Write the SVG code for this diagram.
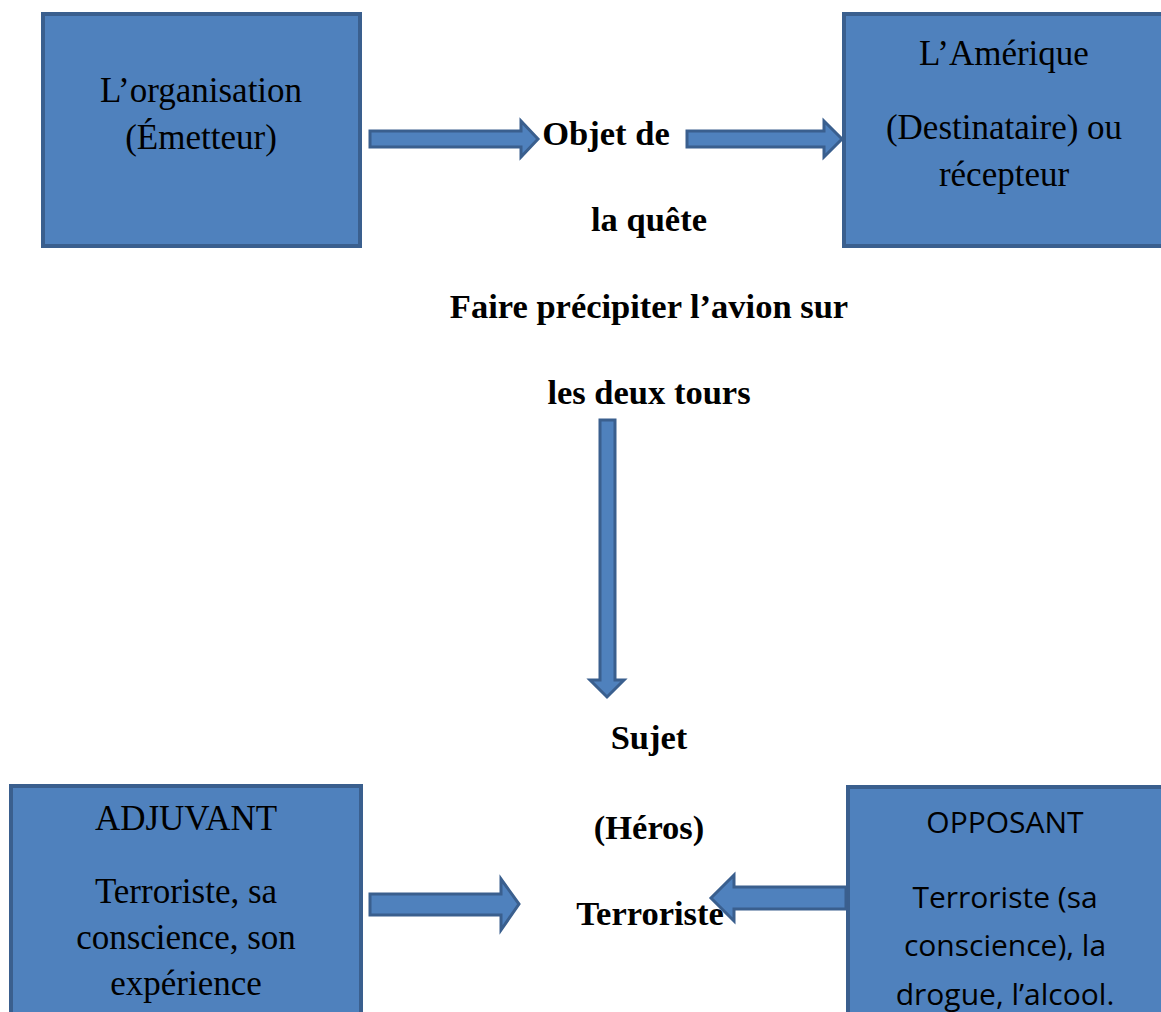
<svg xmlns="http://www.w3.org/2000/svg" width="1161" height="1012" viewBox="0 0 1161 1012">
<style>
.box{fill:#4F81BD;stroke:#3A5F8E;stroke-width:4}
.arr{fill:#4F81BD;stroke:#3A5F8E;stroke-width:3;stroke-linejoin:miter}
.t{font-family:"Liberation Serif",serif;font-size:35px;fill:#000;text-anchor:middle}
.b{font-family:"Liberation Serif",serif;font-size:34.5px;font-weight:bold;fill:#000;text-anchor:middle}
.s{font-family:"Open Sans","Liberation Sans",sans-serif;font-size:30px;fill:#000;text-anchor:middle}
</style>
<rect width="1161" height="1012" fill="#fff"/>
<g id="emetteur">
<rect class="box" x="43" y="14" width="317" height="232"/>
<text class="t" x="201" y="102">L’organisation</text>
<text class="t" x="201" y="149">(Émetteur)</text>
</g>
<g id="destinataire">
<rect class="box" x="844" y="14" width="330" height="232"/>
<text class="t" x="1004" y="65">L’Amérique</text>
<text class="t" x="1004" y="139">(Destinataire) ou</text>
<text class="t" x="1004" y="186">récepteur</text>
</g>
<g id="objet">
<text class="b" x="606" y="145">Objet de</text>
<text class="b" x="649" y="231">la quête</text>
<text class="b" x="649" y="318">Faire précipiter l’avion sur</text>
<text class="b" x="649" y="404">les deux tours</text>
</g>
<g id="sujet">
<text class="b" x="649" y="749">Sujet</text>
<text class="b" x="649" y="839">(Héros)</text>
<text class="b" x="650" y="925">Terroriste</text>
</g>
<g id="adjuvant">
<rect class="box" x="11" y="786" width="350" height="240"/>
<text class="t" x="186" y="830">ADJUVANT</text>
<text class="t" x="186" y="903">Terroriste, sa</text>
<text class="t" x="186" y="949">conscience, son</text>
<text class="t" x="186" y="995">expérience</text>
</g>
<g id="opposant">
<rect class="box" x="848" y="787" width="330" height="240"/>
<text class="s" x="1005" y="833">OPPOSANT</text>
<text class="s" x="1005" y="908">Terroriste (sa</text>
<text class="s" x="1005" y="956">conscience), la</text>
<text class="s" x="1005" y="1005">drogue, l’alcool.</text>
</g>
<g id="connectors">
<path class="arr" d="M370,131 L521,131 L521,121 L538,139 L521,157 L521,147 L370,147 Z"/>
<path class="arr" d="M687,131 L824,131 L824,121 L842,139 L824,157 L824,147 L687,147 Z"/>
<path class="arr" d="M600,420 L615,420 L615,680 L624,680 L607,697 L590,680 L600,680 Z"/>
<path class="arr" d="M370,894 L501,894 L501,879 L519,904 L501,930 L501,915 L370,915 Z"/>
<path class="arr" d="M846,887 L734,887 L734,875 L711,898 L734,921 L734,909 L846,909 Z"/>
</g>
</svg>
